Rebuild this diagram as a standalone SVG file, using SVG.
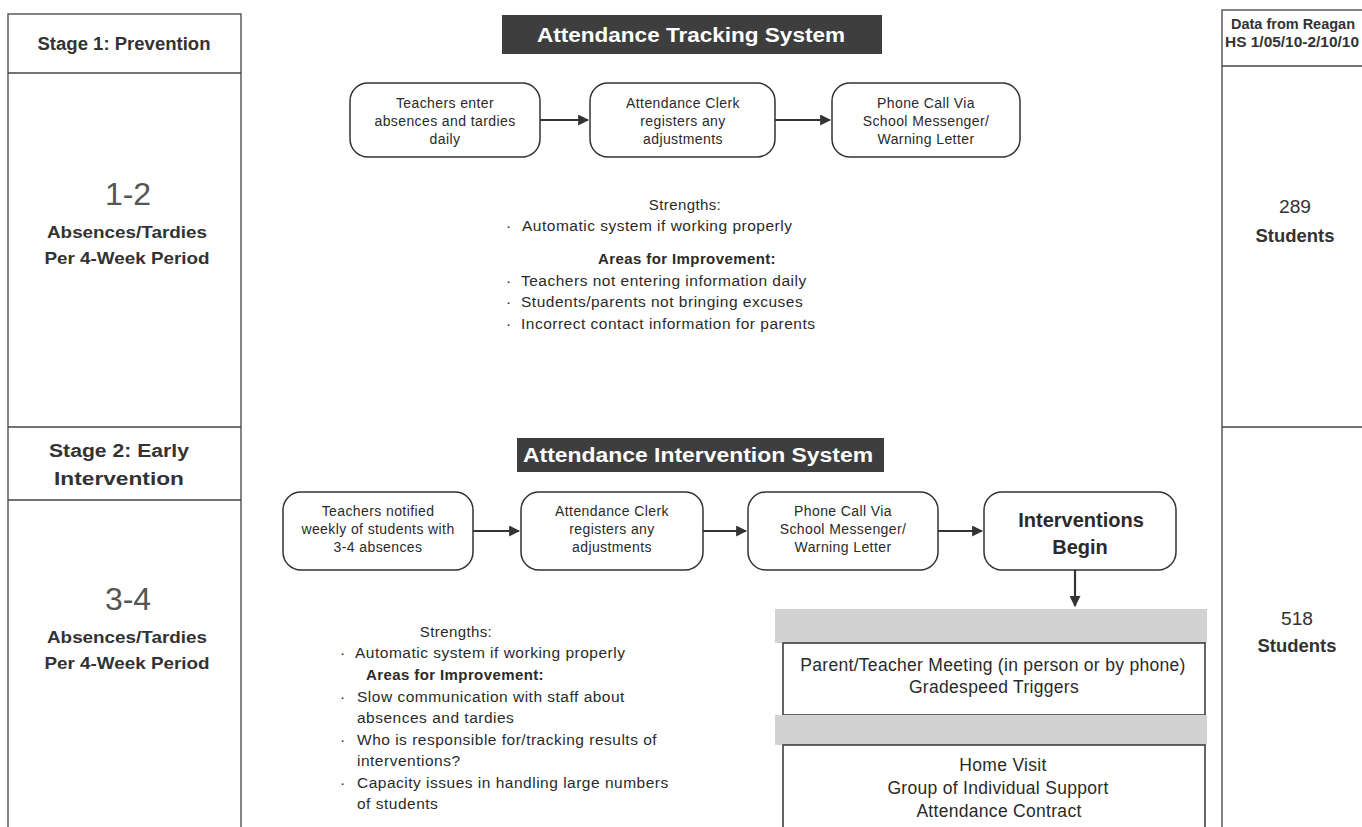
<svg xmlns="http://www.w3.org/2000/svg" width="1362" height="827" viewBox="0 0 1362 827">
<style>
.frame{fill:none;stroke:#444;stroke-width:1.3}
.node{fill:#fff;stroke:#333;stroke-width:1.5}
.t{font-family:"Liberation Sans",Arial,sans-serif;fill:#2a2a2a;text-anchor:middle}
.bx{font-family:"Liberation Sans",Arial,sans-serif;fill:#2a2a2a;text-anchor:middle;font-size:14px;letter-spacing:0.4px}
.bt{font-family:"Liberation Sans",Arial,sans-serif;fill:#2a2a2a;font-size:15.5px;letter-spacing:0.5px}
.hd{font-family:"Liberation Sans",Arial,sans-serif;fill:#2a2a2a;text-anchor:middle;font-size:15px;letter-spacing:0.4px}
.big{font-family:"Liberation Sans",Arial,sans-serif;fill:#2a2a2a;text-anchor:middle;font-size:17.5px;letter-spacing:0.3px}
.cond{font-family:"Liberation Sans Narrow","Liberation Sans",Arial,sans-serif;font-weight:bold;fill:#333;text-anchor:middle}
.num{font-family:"Liberation Sans",Arial,sans-serif;fill:#555;text-anchor:middle}
.hdr{fill:#3e3e3e}
.hdrt{font-family:"Liberation Sans",Arial,sans-serif;font-weight:bold;font-size:20px;fill:#fff;text-anchor:middle}
.band{fill:#d2d2d2}
.conn{stroke:#333;stroke-width:2.2;fill:none}
</style>
<defs>
<marker id="ah" viewBox="0 0 10 10" refX="9" refY="5" markerWidth="5" markerHeight="5" orient="auto">
<path d="M0,0 L10,5 L0,10 z" fill="#333"/>
</marker>
</defs>
<rect width="1362" height="827" fill="#fff"/>

<g id="left-column">
<rect class="frame" x="8" y="14" width="233" height="830"/>
<line class="frame" x1="8" y1="73" x2="241" y2="73"/>
<line class="frame" x1="8" y1="427" x2="241" y2="427"/>
<line class="frame" x1="8" y1="500" x2="241" y2="500"/>
<text class="cond" x="124" y="50" font-size="18" textLength="173" lengthAdjust="spacingAndGlyphs">Stage 1: Prevention</text>
<text class="num" x="128" y="205" font-size="32">1-2</text>
<text class="cond" x="127" y="238" font-size="17" textLength="160" lengthAdjust="spacingAndGlyphs">Absences/Tardies</text>
<text class="cond" x="127" y="264" font-size="17" textLength="165" lengthAdjust="spacingAndGlyphs">Per 4-Week Period</text>
<text class="cond" x="119" y="457" font-size="18" textLength="140" lengthAdjust="spacingAndGlyphs">Stage 2: Early</text>
<text class="cond" x="119" y="485" font-size="18" textLength="130" lengthAdjust="spacingAndGlyphs">Intervention</text>
<text class="num" x="128" y="610" font-size="32">3-4</text>
<text class="cond" x="127" y="643" font-size="17" textLength="160" lengthAdjust="spacingAndGlyphs">Absences/Tardies</text>
<text class="cond" x="127" y="669" font-size="17" textLength="165" lengthAdjust="spacingAndGlyphs">Per 4-Week Period</text>
</g>

<g id="right-column">
<rect class="frame" x="1222" y="10" width="160" height="840"/>
<line class="frame" x1="1222" y1="66" x2="1362" y2="66"/>
<line class="frame" x1="1222" y1="427" x2="1362" y2="427"/>
<text class="cond" x="1293" y="29" font-size="14" textLength="124" lengthAdjust="spacingAndGlyphs">Data from Reagan</text>
<text class="cond" x="1292" y="47" font-size="14" textLength="134" lengthAdjust="spacingAndGlyphs">HS 1/05/10-2/10/10</text>
<text class="cond" x="1295" y="213" font-size="18" textLength="32" lengthAdjust="spacingAndGlyphs" style="font-weight:normal">289</text>
<text class="cond" x="1295" y="242" font-size="18" textLength="79" lengthAdjust="spacingAndGlyphs">Students</text>
<text class="cond" x="1297" y="625" font-size="18" textLength="32" lengthAdjust="spacingAndGlyphs" style="font-weight:normal">518</text>
<text class="cond" x="1297" y="652" font-size="18" textLength="79" lengthAdjust="spacingAndGlyphs">Students</text>
</g>

<g id="header-tracking">
<rect class="hdr" x="502" y="15" width="380" height="39"/>
<text class="hdrt" x="691" y="42" textLength="308" lengthAdjust="spacingAndGlyphs">Attendance Tracking System</text>
</g>
<g id="header-intervention">
<rect class="hdr" x="517" y="438" width="367" height="34"/>
<text class="hdrt" x="698" y="462" textLength="350" lengthAdjust="spacingAndGlyphs">Attendance Intervention System</text>
</g>

<g id="t1">
<rect class="node" x="350" y="83" width="190" height="74" rx="18"/>
<text class="bx" x="445" y="108">Teachers enter</text>
<text class="bx" x="445" y="126">absences and tardies</text>
<text class="bx" x="445" y="144">daily</text>
</g>
<g id="t2">
<rect class="node" x="590" y="83" width="185" height="74" rx="18"/>
<text class="bx" x="683" y="108">Attendance Clerk</text>
<text class="bx" x="683" y="126">registers any</text>
<text class="bx" x="683" y="144">adjustments</text>
</g>
<g id="t3">
<rect class="node" x="832" y="83" width="188" height="74" rx="18"/>
<text class="bx" x="926" y="108">Phone Call Via</text>
<text class="bx" x="926" y="126">School Messenger/</text>
<text class="bx" x="926" y="144">Warning Letter</text>
</g>

<g id="notes1">
<text class="hd" x="685" y="210">Strengths:</text>
<text class="bt" x="506" y="231">·</text>
<text class="bt" x="522" y="231">Automatic system if working properly</text>
<text class="hd" x="687" y="264" style="font-weight:bold">Areas for Improvement:</text>
<text class="bt" x="506" y="286">·</text>
<text class="bt" x="521" y="286">Teachers not entering information daily</text>
<text class="bt" x="506" y="307">·</text>
<text class="bt" x="521" y="307">Students/parents not bringing excuses</text>
<text class="bt" x="506" y="329">·</text>
<text class="bt" x="521" y="329">Incorrect contact information for parents</text>
</g>

<g id="i1">
<rect class="node" x="283" y="492" width="190" height="78" rx="18"/>
<text class="bx" x="378" y="516">Teachers notified</text>
<text class="bx" x="378" y="534">weekly of students with</text>
<text class="bx" x="378" y="552">3-4 absences</text>
</g>
<g id="i2">
<rect class="node" x="521" y="492" width="182" height="78" rx="18"/>
<text class="bx" x="612" y="516">Attendance Clerk</text>
<text class="bx" x="612" y="534">registers any</text>
<text class="bx" x="612" y="552">adjustments</text>
</g>
<g id="i3">
<rect class="node" x="748" y="492" width="190" height="78" rx="18"/>
<text class="bx" x="843" y="516">Phone Call Via</text>
<text class="bx" x="843" y="534">School Messenger/</text>
<text class="bx" x="843" y="552">Warning Letter</text>
</g>
<g id="i4">
<rect class="node" x="984" y="492" width="192" height="78" rx="18"/>
<text class="t" x="1081" y="527" font-size="20" style="font-weight:600">Interventions</text>
<text class="t" x="1080" y="554" font-size="20" style="font-weight:600">Begin</text>
</g>

<g id="required">
<rect class="band" x="775" y="609" width="432" height="34"/>
<rect class="node" x="783" y="643" width="422" height="72" stroke-width="1.3"/>
<text class="big" x="993" y="671">Parent/Teacher Meeting (in person or by phone)</text>
<text class="big" x="994" y="693">Gradespeed Triggers</text>
</g>
<g id="optional">
<rect class="band" x="775" y="715" width="432" height="30"/>
<rect class="node" x="783" y="745" width="422" height="100" stroke-width="1.3"/>
<text class="big" x="1003" y="771">Home Visit</text>
<text class="big" x="998" y="794">Group of Individual Support</text>
<text class="big" x="999" y="817">Attendance Contract</text>
</g>

<g id="notes2">
<text class="hd" x="456" y="637">Strengths:</text>
<text class="bt" x="340" y="658">·</text>
<text class="bt" x="355" y="658">Automatic system if working properly</text>
<text class="hd" x="455" y="680" style="font-weight:bold">Areas for Improvement:</text>
<text class="bt" x="340" y="702">·</text>
<text class="bt" x="357" y="702">Slow communication with staff about</text>
<text class="bt" x="357" y="723">absences and tardies</text>
<text class="bt" x="340" y="745">·</text>
<text class="bt" x="357" y="745">Who is responsible for/tracking results of</text>
<text class="bt" x="357" y="766">interventions?</text>
<text class="bt" x="340" y="788">·</text>
<text class="bt" x="357" y="788">Capacity issues in handling large numbers</text>
<text class="bt" x="357" y="809">of students</text>
</g>

<g id="connectors">
<line class="conn" x1="540" y1="120" x2="588" y2="120" marker-end="url(#ah)"/>
<line class="conn" x1="775" y1="120" x2="830" y2="120" marker-end="url(#ah)"/>
<line class="conn" x1="473" y1="531" x2="519" y2="531" marker-end="url(#ah)"/>
<line class="conn" x1="703" y1="531" x2="746" y2="531" marker-end="url(#ah)"/>
<line class="conn" x1="938" y1="531" x2="982" y2="531" marker-end="url(#ah)"/>
<line class="conn" x1="1075" y1="570" x2="1075" y2="606" marker-end="url(#ah)"/>
</g>
</svg>
